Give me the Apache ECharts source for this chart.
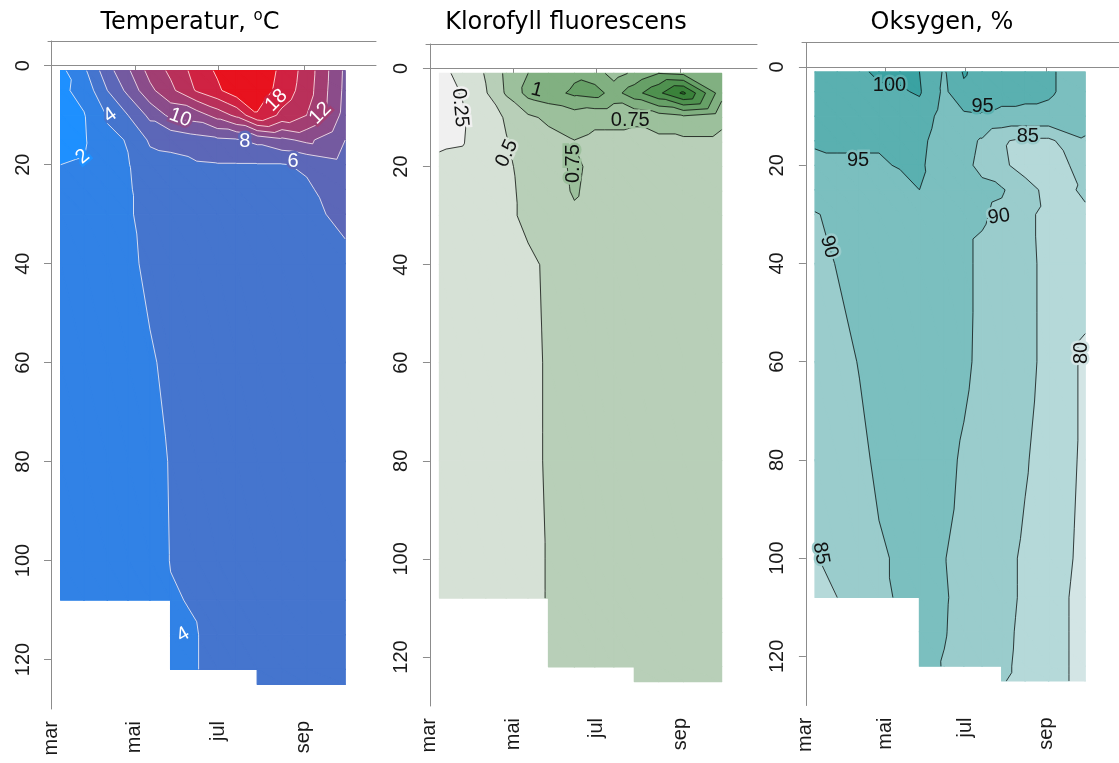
<!DOCTYPE html>
<html lang="no">
<head>
<meta charset="UTF-8">
<title>Temperatur, klorofyll og oksygen</title>
<style>
  html, body { margin: 0; padding: 0; background: #fff; }
  #chart { width: 1119px; height: 763px; }
</style>
</head>
<body>
<div id="chart"></div>
<script src="https://cdn.jsdelivr.net/npm/echarts@6/dist/echarts.min.js"></script>
<script>
// sampling stations, days counted from 1 March
const stationDays = [7, 24, 41, 56, 72, 87, 106, 121, 135, 150, 168, 186, 214];
const depths = [1, 5, 10, 15, 20, 25, 30, 40, 60, 80, 100, 108, 115, 122, 125];
const monthDays = [0, 61, 122, 184];
const monthNames = ['mar', 'mai', 'jul', 'sep'];
const depthTicks = [0, 20, 40, 60, 80, 100, 120];

// one profile per station (same order as depths), null below the bottom
const temperature = [
  [1.5, 1.6, 1.7, 1.85, 2.0, 2.2, 2.4, 2.6, 2.8, 3.0, 3.2, 3.3, null, null, null],
  [3.6, 2.6, 1.9, 1.8, 2.05, 2.3, 2.6, 2.9, 3.0, 3.1, 3.3, 3.4, null, null, null],
  [7.2, 6.0, 4.2, 3.6, 3.4, 3.3, 3.3, 3.3, 3.4, 3.5, 3.6, 3.6, null, null, null],
  [9.7, 8.5, 6.0, 4.1, 3.9, 3.8, 3.8, 3.7, 3.6, 3.6, 3.7, 3.7, null, null, null],
  [12.7, 11.5, 8.5, 6.3, 5.2, 4.8, 4.6, 4.3, 3.85, 3.7, 3.7, 3.7, null, null, null],
  [14.4, 13.5, 10.5, 6.4, 5.6, 5.2, 5.0, 4.6, 4.3, 4.05, 4.02, 3.95, 3.9, 3.9, null],
  [16.8, 16.2, 11.0, 7.2, 5.8, 5.4, 5.2, 4.8, 4.5, 4.3, 4.2, 4.05, 3.97, 3.97, null],
  [18.3, 17.6, 12.8, 7.6, 5.9, 5.5, 5.3, 5.0, 4.6, 4.4, 4.3, 4.3, 4.3, 4.3, null],
  [19.8, 19.3, 14.5, 7.8, 5.9, 5.5, 5.3, 5.0, 4.7, 4.5, 4.4, 4.4, 4.4, 4.4, null],
  [19.6, 19.3, 17.8, 8.5, 5.9, 5.6, 5.4, 5.1, 4.8, 4.6, 4.5, 4.5, 4.5, 4.5, 4.5],
  [17.5, 17.2, 15.5, 9.5, 5.9, 5.6, 5.4, 5.2, 4.9, 4.7, 4.6, 4.6, 4.6, 4.6, 4.6],
  [15.2, 15.0, 14.0, 10.5, 6.2, 5.8, 5.6, 5.3, 5.0, 4.8, 4.7, 4.7, 4.7, 4.7, 4.7],
  [9.6, 9.5, 9.3, 8.0, 7.3, 6.8, 6.4, 5.6, 5.1, 4.9, 4.8, 4.8, 4.8, 4.8, 4.8]
];
const chlorophyll = [
  [0.20, 0.20, 0.21, 0.23, 0.28, 0.33, 0.36, 0.40, 0.42, 0.42, 0.42, 0.42, null, null, null],
  [0.30, 0.26, 0.23, 0.24, 0.30, 0.35, 0.38, 0.41, 0.42, 0.42, 0.42, 0.42, null, null, null],
  [0.52, 0.48, 0.40, 0.36, 0.38, 0.40, 0.42, 0.43, 0.43, 0.43, 0.43, 0.43, null, null, null],
  [0.80, 0.78, 0.52, 0.49, 0.46, 0.45, 0.45, 0.44, 0.43, 0.43, 0.43, 0.43, null, null, null],
  [1.00, 1.08, 0.70, 0.60, 0.58, 0.56, 0.55, 0.46, 0.45, 0.45, 0.45, 0.45, null, null, null],
  [1.02, 1.15, 0.80, 0.66, 0.62, 0.60, 0.58, 0.53, 0.52, 0.52, 0.51, 0.51, 0.51, 0.51, null],
  [1.20, 1.30, 0.86, 0.74, 0.80, 0.78, 0.70, 0.62, 0.60, 0.58, 0.58, 0.58, 0.58, 0.58, null],
  [1.12, 1.35, 0.80, 0.70, 0.68, 0.66, 0.64, 0.62, 0.61, 0.60, 0.60, 0.60, 0.60, 0.60, null],
  [0.90, 1.15, 0.80, 0.70, 0.67, 0.65, 0.64, 0.62, 0.61, 0.60, 0.60, 0.60, 0.60, 0.60, null],
  [1.05, 1.40, 0.78, 0.70, 0.67, 0.65, 0.64, 0.62, 0.61, 0.60, 0.60, 0.60, 0.60, 0.60, 0.60],
  [1.25, 1.70, 0.85, 0.70, 0.66, 0.65, 0.64, 0.62, 0.61, 0.60, 0.60, 0.60, 0.60, 0.60, 0.60],
  [1.20, 2.05, 0.92, 0.70, 0.66, 0.65, 0.64, 0.62, 0.61, 0.60, 0.60, 0.60, 0.60, 0.60, 0.60],
  [1.05, 1.10, 0.80, 0.70, 0.65, 0.64, 0.63, 0.62, 0.61, 0.60, 0.60, 0.60, 0.60, 0.60, 0.60]
];
const oxygen = [
  [97, 97, 96.5, 95.5, 94, 92.5, 89.7, 88.5, 87.5, 87, 84.8, 84, null, null, null],
  [98, 97.5, 96.5, 95.5, 94.5, 93, 91, 90.2, 88.5, 87.5, 86, 85, null, null, null],
  [99, 98, 97, 95.5, 94.5, 93, 92, 91.5, 90.2, 89, 87.5, 87, null, null, null],
  [101, 99, 97, 95.5, 94.5, 93, 92.5, 92, 91, 90.8, 89.5, 89, null, null, null],
  [101, 99.5, 97.5, 96, 95.3, 93.5, 93, 92.5, 92, 91.5, 90.5, 90.5, null, null, null],
  [100, 100.5, 98, 96.5, 96, 95, 94, 93, 92.5, 91.5, 91, 91, 91.2, 91.3, null],
  [94.5, 94, 93, 92, 91.5, 92, 92, 92.5, 92, 91, 90.1, 90.3, 90.2, 89.8, null],
  [100.5, 99, 94, 91.5, 91, 91.5, 91, 91, 90.8, 89.5, 89, 89, 88.8, 88.6, null],
  [98, 97.5, 94.5, 89.5, 89, 91, 90.5, 89, 89, 88, 87.5, 87.5, 87.3, 87.2, null],
  [97, 96.5, 94, 85.5, 86, 90.5, 89, 88, 87.5, 87, 86, 86, 85.8, 85.6, 85.2],
  [96.5, 96, 94, 84, 83, 87, 85.8, 86, 86, 85.3, 84.5, 84.5, 84.3, 84.2, 84.2],
  [95.5, 95.5, 94, 84, 83, 83.5, 84, 84, 84, 83.5, 83, 82.5, 82.5, 82.5, 82.5],
  [93, 93, 92, 89.5, 86.5, 85.5, 84.5, 82.5, 79, 79, 78.5, 78, 78, 78, 78]
];

const tempLevels = [0, 2, 4, 6, 8, 10, 12, 14, 16, 18, 20];
const chlLevels = [0, 0.25, 0.5, 0.75, 1, 1.25, 1.5, 1.75, 2, 2.25];
const oxyLevels = [75, 80, 85, 90, 95, 100, 105];

// contour labels: [day, depth, text, angle]
const tempLabels = [[23, 18.4, '2', 40], [43, 10, '4', 35], [94, 10.5, '10', -20], [141, 15.4, '8', 0],
  [164, 7, '18', 45], [196, 9.6, '12', 45], [176, 19.4, '6', 0], [96, 115, '4', 30]];
const chlLabels = [[22, 8, '0.25', -85], [78.5, 4.4, '1', -15], [147, 10.6, '0.75', 0],
  [56.5, 17.3, '0.5', 65], [105, 19.4, '0.75', 90]];
const oxyLabels = [[64, 3.7, '100', 0], [40, 19, '95', 0], [135.4, 8.1, '95', 0], [170, 14.2, '85', 0],
  [17.7, 36.6, '90', -75], [148, 30.5, '90', 8], [211.5, 58.2, '80', 90], [11.5, 99, '85', -80]];

const tempColors = ['#1e90ff', '#3182e6', '#4575ce', '#5c67b8', '#745aa0', '#8b4c8a', '#a23e72',
  '#b9305a', '#d02242', '#e8121e'];
const chlColors = ['#f0f0f0', '#d6e1d6', '#b8cfb8', '#9cc09c', '#81b081', '#67a067', '#4f914f',
  '#3a823a', '#267326'];
const oxyColors = ['#d3e5e5', '#b5d9d9', '#9acccc', '#7bbfbf', '#5ab0b0', '#3aa2a2'];

// clip a polygon of [x, y, v] points against v >= lev (above) or v <= lev
function clipPoly(poly, lev, above) {
  const out = [];
  for (let i = 0; i < poly.length; i++) {
    const p = poly[i], q = poly[(i + 1) % poly.length];
    const pin = above ? p[2] >= lev : p[2] <= lev;
    const qin = above ? q[2] >= lev : q[2] <= lev;
    if (pin) out.push(p);
    if (pin !== qin) {
      const t = (lev - p[2]) / (q[2] - p[2]);
      out.push([p[0] + t * (q[0] - p[0]), p[1] + t * (q[1] - p[1]), lev]);
    }
  }
  return out;
}

function cellTriangles(values, i, j) {
  const v = [values[i][j], values[i + 1][j], values[i + 1][j + 1], values[i][j + 1]];
  if (v.some(x => x == null)) return [];
  const a = [stationDays[i], depths[j], v[0]];
  const b = [stationDays[i + 1], depths[j], v[1]];
  const c = [stationDays[i + 1], depths[j + 1], v[2]];
  const d = [stationDays[i], depths[j + 1], v[3]];
  return [[a, b, c], [a, c, d]];
}

function contourGeometry(values, levels) {
  const polys = [], segs = [];
  for (let i = 0; i < stationDays.length - 1; i++) {
    for (let j = 0; j < depths.length - 1; j++) {
      cellTriangles(values, i, j).forEach(tri => {
        for (let k = 0; k < levels.length - 1; k++) {
          let p = tri;
          if (k > 0) p = clipPoly(p, levels[k], true);
          if (p.length && k < levels.length - 2) p = clipPoly(p, levels[k + 1], false);
          if (p.length >= 3) polys.push({ pts: p, band: k });
        }
        for (let k = 1; k < levels.length - 1; k++) {
          const L = levels[k], pts = [];
          for (let e = 0; e < 3; e++) {
            const p = tri[e], q = tri[(e + 1) % 3];
            if ((p[2] < L) !== (q[2] < L)) {
              const t = (L - p[2]) / (q[2] - p[2]);
              pts.push([p[0] + t * (q[0] - p[0]), p[1] + t * (q[1] - p[1])]);
            }
          }
          if (pts.length === 2) segs.push(pts);
        }
      });
    }
  }
  return { polys, segs };
}

// field value at a point, from the triangle that holds it
function valueAt(values, x, y) {
  for (let i = 0; i < stationDays.length - 1; i++) {
    for (let j = 0; j < depths.length - 1; j++) {
      for (const t of cellTriangles(values, i, j)) {
        const [a, b, c] = t;
        const det = (b[1] - c[1]) * (a[0] - c[0]) + (c[0] - b[0]) * (a[1] - c[1]);
        const l1 = ((b[1] - c[1]) * (x - c[0]) + (c[0] - b[0]) * (y - c[1])) / det;
        const l2 = ((c[1] - a[1]) * (x - c[0]) + (a[0] - c[0]) * (y - c[1])) / det;
        const l3 = 1 - l1 - l2;
        if (l1 >= -1e-9 && l2 >= -1e-9 && l3 >= -1e-9) return l1 * a[2] + l2 * b[2] + l3 * c[2];
      }
    }
  }
  return null;
}

function bandOf(levels, v) {
  let k = 0;
  while (k < levels.length - 2 && v >= levels[k + 1]) k++;
  return k;
}

function contourSeries(idx, values, levels, colors, labels, lineColor, textColor) {
  const geo = contourGeometry(values, levels);
  return {
    type: 'custom',
    xAxisIndex: idx * 2,
    yAxisIndex: idx,
    data: [[stationDays[0], depths[0]]],
    silent: true,
    renderItem: function (params, api) {
      const children = [];
      geo.polys.forEach(p => {
        children.push({
          type: 'polygon',
          shape: { points: p.pts.map(q => api.coord([q[0], q[1]])) },
          style: { fill: colors[p.band], stroke: colors[p.band], lineWidth: 1.3, lineJoin: 'round' }
        });
      });
      geo.segs.forEach(s => {
        const p1 = api.coord(s[0]), p2 = api.coord(s[1]);
        children.push({
          type: 'line',
          shape: { x1: p1[0], y1: p1[1], x2: p2[0], y2: p2[1] },
          style: { stroke: lineColor, lineWidth: 1 }
        });
      });
      labels.forEach(l => {
        const p = api.coord([l[0], l[1]]);
        const v = valueAt(values, l[0], l[1]);
        const under = v == null ? '#fff' : colors[bandOf(levels, v)];
        children.push({
          type: 'text', x: p[0], y: p[1], rotation: l[3] * Math.PI / 180,
          style: { text: l[2], fill: textColor, font: '20px "Liberation Sans", Arial, sans-serif',
                   align: 'center', verticalAlign: 'middle', stroke: under, lineWidth: 5 }
        });
      });
      return { type: 'group', children };
    }
  };
}

const panels = [
  { left: 48, top: 41, width: 328, height: 668, xMin: -2.2, xMax: 236.4, titleX: 185 },
  { left: 426, top: 44, width: 331, height: 662, xMin: -2.9, xMax: 240, titleX: 561 },
  { left: 802, top: 42.5, width: 330, height: 663, xMin: -3.0, xMax: 239.9, titleX: 937 }
];
const axisGray = '#8c8c8c';
const font = '"Liberation Sans", Arial, sans-serif';

const grids = [], xAxes = [], yAxes = [];
panels.forEach((p, i) => {
  grids.push({ left: p.left, top: p.top, width: p.width, height: p.height });
  xAxes.push({
    type: 'value', gridIndex: i, min: p.xMin, max: p.xMax, position: 'bottom',
    axisLine: { show: true, lineStyle: { color: axisGray } },
    axisTick: { show: true, length: 7, customValues: monthDays, lineStyle: { color: axisGray } },
    axisLabel: { customValues: monthDays, rotate: 90, margin: 12, fontSize: 20, fontFamily: font, color: '#1a1a1a',
                 formatter: v => monthNames[monthDays.indexOf(v)] },
    splitLine: { show: false }
  });
  xAxes.push({
    type: 'value', gridIndex: i, min: p.xMin, max: p.xMax, position: 'top',
    axisLine: { show: true, lineStyle: { color: axisGray } },
    axisTick: { show: false }, axisLabel: { show: false }, splitLine: { show: false }
  });
  yAxes.push({
    type: 'value', gridIndex: i, inverse: true, min: -5, max: 130,
    axisLine: { show: true, lineStyle: { color: axisGray } },
    axisTick: { show: true, length: 7, customValues: depthTicks, lineStyle: { color: axisGray } },
    axisLabel: { customValues: depthTicks, rotate: 90, margin: 15, fontSize: 20, fontFamily: font, color: '#1a1a1a' },
    splitLine: { show: false }
  });
});

const titleStyle = { fontFamily: '"DejaVu Sans", sans-serif', fontSize: 24, color: '#000', lineHeight: 28 };
const titles = ['Temperatur, {s|o}C', 'Klorofyll fluorescens', 'Oksygen, %'].map((t, i) => ({
  text: t, left: panels[i].titleX, top: 4, textAlign: 'center',
  textStyle: Object.assign({ fontWeight: 'normal', rich: {
    s: { fontFamily: '"DejaVu Sans", sans-serif', fontSize: 15, color: '#000', verticalAlign: 'top', lineHeight: 28, padding: [0, 0, 10, 0] }
  } }, titleStyle)
}));

const chart = echarts.init(document.getElementById('chart'));
chart.setOption({
  animation: false,
  backgroundColor: '#fff',
  title: titles,
  grid: grids,
  xAxis: xAxes,
  yAxis: yAxes,
  series: [
    contourSeries(0, temperature, tempLevels, tempColors, tempLabels, 'rgba(255,255,255,0.75)', '#ffffff'),
    contourSeries(1, chlorophyll, chlLevels, chlColors, chlLabels, 'rgba(20,20,20,0.8)', '#111'),
    contourSeries(2, oxygen, oxyLevels, oxyColors, oxyLabels, 'rgba(20,20,20,0.8)', '#111')
  ]
});
</script>
</body>
</html>
